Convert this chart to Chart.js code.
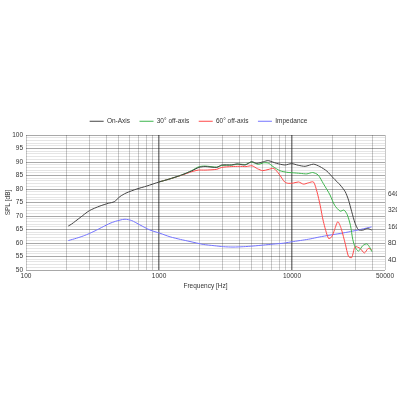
<!DOCTYPE html>
<html><head><meta charset="utf-8">
<script src="https://cdn.jsdelivr.net/npm/chart.js@4/dist/chart.umd.min.js"></script>
<style>html,body{margin:0;padding:0;background:#fff;}#wrap{position:absolute;left:0;top:0;width:416px;height:416px;}</style>
</head><body><div id="wrap"><canvas id="c" width="416" height="416"></canvas></div>
<script>
// ---- data (frequency in Hz, SPL in dB, impedance in ohm) ----
const onFreq = [208,220,255,300,360,416,461,509,565,680,810,1000,1180,1480,1760,2000,2220,2720,2960,3520,3840,4440,4980,5430,6090,6630,7650,8830,9930,11140,12540,14500,16200,18300,20500,23000,25100,26600,28100,29800,31600,34300,36900,39700];
const onSpl  = [66.3,67.0,69.4,72.0,73.7,74.7,75.3,77.2,78.5,80.0,81.1,82.6,83.6,85.2,86.7,88.0,88.3,88.0,88.9,88.9,89.3,88.9,90.1,89.5,90.1,90.5,89.5,88.9,89.4,88.8,88.4,89.2,88.3,86.6,84.0,81.5,79.0,75.9,71.6,67.3,64.9,64.8,65.4,64.8];

const g30Freq = [1000,1180,1480,1760,1980,2220,2720,2960,3520,4000,4500,4900,5300,5600,6100,6630,7200,8100,9100,10230,11500,12920,14300,15700,17200,18300,19300,20900,23000,24600,26000,27500,28600,29800,31600,34000,36500,38500,39800];
const g30Spl  = [82.6,83.6,85.2,86.8,88.2,88.5,88.1,88.7,88.9,89.2,89.1,90.0,89.5,89.1,89.7,89.6,88.3,86.8,86.2,86.0,85.8,85.6,86.1,85.2,82.0,79.8,77.8,74.0,71.8,72.2,70.5,66.5,61.4,58.5,57.0,59.0,59.7,58.3,56.8];

const r60Freq = [1000,1180,1480,1760,1980,2220,2720,2960,3520,4000,4500,5000,5500,6000,6600,7300,8000,8800,9350,10230,11200,12200,13300,14500,15400,16270,17200,18800,19900,20900,22100,23400,25200,26600,28100,29800,32500,35000,37400,39700];
const r60Spl  = [82.6,83.6,85.1,86.4,87.0,87.0,87.3,88.0,88.3,88.4,88.3,88.6,87.5,86.8,87.2,87.6,85.5,82.6,82.1,82.2,82.6,81.8,82.3,82.6,79.0,74.0,68.0,61.7,62.3,65.0,67.9,65.4,59.5,55.0,54.6,58.6,58.0,56.3,58.0,57.5];

const impFreq = [208,240,270,300,340,380,428,470,509,555,623,718,855,1018,1210,1450,1710,2150,2600,3060,3600,4300,5100,6080,7200,8600,10230,12000,13680,16000,19300,23000,27500,33000,39700];
const impOhm  = [9.05,10.0,11.0,12.2,14.1,16.2,18.7,20.3,21.4,22.2,21.0,17.5,14.1,12.3,10.6,9.5,8.7,7.7,7.3,7.0,6.9,7.0,7.2,7.5,7.8,8.1,8.7,9.2,9.7,10.5,11.4,12.2,13.2,14.5,16.1];

// ---- axis ticks ----
const xGridVals = [100,200,300,400,500,600,700,800,900,1000,2000,3000,4000,5000,6000,7000,8000,9000,10000,20000,30000,40000,50000];
const xLabelVals = [100,1000,10000,50000];
const xDecades = [1000,10000];
const yLabelVals = [50,55,60,65,70,75,80,85,90,95,100];
const impTickVals = [4,8,16,32,64];

const yGridVals = [];
for (let v = 50; v <= 100; v++) yGridVals.push(v);

const pts = (f, v) => f.map((x, i) => ({x: x, y: v[i]}));

Chart.defaults.font.family = "'Liberation Sans', Arial, sans-serif";
Chart.defaults.font.size = 6.5;
Chart.defaults.color = '#333';

const legendHeight = {
  id: 'legendHeight',
  beforeInit(chart) {
    const orig = chart.legend.fit;
    chart.legend.fit = function () { orig.call(this); this.height = 26.5; };
  }
};

new Chart(document.getElementById('c').getContext('2d'), {
  type: 'line',
  data: {
    datasets: [
      {label: 'On-Axis', data: pts(onFreq, onSpl), borderColor: '#444444', backgroundColor: '#444444', yAxisID: 'y'},
      {label: '30° off-axis', data: pts(g30Freq, g30Spl), borderColor: '#3db54d', backgroundColor: '#3db54d', yAxisID: 'y'},
      {label: '60° off-axis', data: pts(r60Freq, r60Spl), borderColor: '#ff4848', backgroundColor: '#ff4848', yAxisID: 'y'},
      {label: 'Impedance', data: pts(impFreq, impOhm), borderColor: '#7474ff', backgroundColor: '#7474ff', yAxisID: 'yImp'}
    ]
  },
  options: {
    responsive: false, animation: false, devicePixelRatio: 1,
    layout: {padding: {top: 108.5, left: 0, right: 19, bottom: 126}},
    elements: {point: {radius: 0}, line: {borderWidth: 1, tension: 0.25, fill: false}},
    plugins: {
      legend: {position: 'top', labels: {usePointStyle: true, pointStyle: 'line', pointStyleWidth: 14, boxHeight: 6.5, padding: 9.5, color: '#333', font: {size: 6.5}}},
      tooltip: {enabled: false}
    },
    scales: {
      x: {
        type: 'logarithmic', min: 100, max: 50000,
        afterBuildTicks: s => { s.ticks = xGridVals.map(v => ({value: v})); },
        afterFit: s => { s.height = 20; },
        ticks: {autoSkip: false, maxRotation: 0, padding: 2, callback: v => xLabelVals.includes(v) ? String(v) : ''},
        grid: {drawTicks: false,
          color: c => (c.tick && xDecades.includes(c.tick.value)) ? 'rgba(0,0,0,0.50)' : 'rgba(0,0,0,0.21)',
          lineWidth: c => (c.tick && xDecades.includes(c.tick.value)) ? 1.5 : 1},
        border: {display: false},
        title: {display: true, text: 'Frequency [Hz]', padding: {top: 0, bottom: 0}}
      },
      y: {
        position: 'left', min: 50, max: 100,
        afterBuildTicks: s => { s.ticks = yGridVals.map(v => ({value: v})); },
        afterFit: s => { s.width = 26; },
        ticks: {autoSkip: false, padding: 3, callback: v => yLabelVals.includes(v) ? String(v) : ''},
        grid: {drawTicks: false, color: c => (c.tick && yLabelVals.includes(c.tick.value)) ? 'rgba(0,0,0,0.34)' : 'rgba(0,0,0,0.10)'},
        border: {display: false},
        title: {display: true, text: 'SPL [dB]', padding: {top: 4, bottom: 0}}
      },
      yImp: {
        type: 'logarithmic', position: 'right', min: 2.63, max: 763,
        afterBuildTicks: s => { s.ticks = impTickVals.map(v => ({value: v})); },
        afterFit: s => { s.width = 12; },
        ticks: {autoSkip: false, padding: 3, callback: v => v + 'Ω'},
        grid: {display: false, drawTicks: false},
        border: {display: false}
      }
    }
  },
  plugins: [legendHeight]
});
</script>
</body></html>
